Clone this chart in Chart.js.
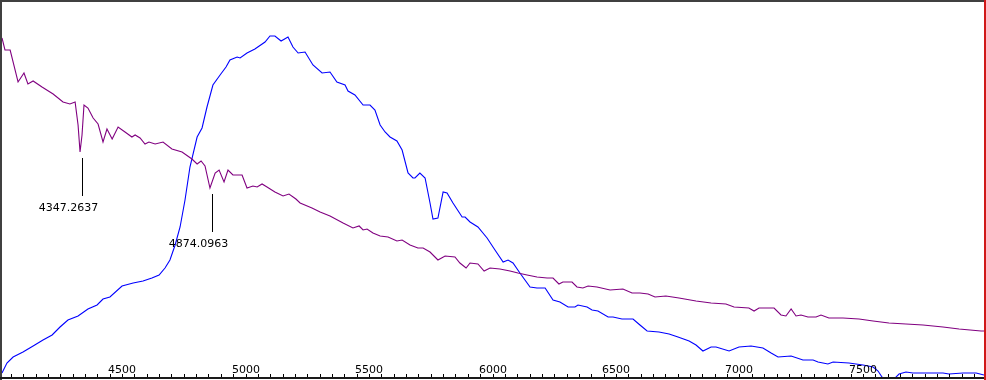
<!DOCTYPE html>
<html>
<head>
<meta charset="utf-8">
<script src="https://cdn.jsdelivr.net/npm/chart.js@4/dist/chart.umd.min.js"></script>
<style>
  html, body { margin: 0; padding: 0; background: #ffffff; }
  canvas { display: block; }
</style>
</head>
<body>
<canvas id="c" width="986" height="380"></canvas>
<script>
// ---- data ----
const purpleWavelength = [4014,4026,4047,4079,4103,4119,4140,4176,4221,4261,4289,4310,4322,4330,4338,4346,4362,4383,4403,4423,4439,4460,4484,4512,4540,4553,4573,4593,4609,4634,4666,4702,4743,4783,4804,4820,4836,4856,4877,4893,4913,4929,4949,4986,5006,5030,5047,5067,5087,5119,5152,5176,5204,5221,5269,5302,5342,5395,5435,5460,5476,5492,5516,5545,5577,5613,5634,5666,5698,5719,5747,5779,5808,5848,5868,5893,5909,5941,5966,5990,6030,6071,6103,6140,6180,6221,6245,6269,6285,6322,6342,6366,6387,6423,6476,6528,6565,6597,6630,6658,6702,6755,6824,6885,6945,6978,7038,7059,7079,7140,7168,7188,7209,7229,7249,7277,7310,7330,7362,7419,7484,7541,7605,7674,7743,7824,7889,7978,7990];
const purpleIntensity = [339,327,327,295,304,293,296,290,283,275,273,275,252,225,242,272,269,259,253,235,248,238,250,245,240,242,239,233,235,233,235,228,225,218,213,216,211,189,204,207,195,207,202,202,189,191,190,193,190,185,181,183,178,174,169,165,161,154,149,151,147,148,144,141,140,136,137,132,129,129,125,117,121,120,114,109,114,113,106,109,108,106,104,102,100,99,99,93,95,95,90,89,91,90,87,88,84,84,83,80,81,79,76,74,73,70,69,66,69,69,62,61,68,61,62,60,60,62,59,59,58,56,54,53,52,50,48,46,46];

const blueWavelength = [4014,4034,4059,4099,4140,4180,4217,4249,4281,4322,4362,4399,4423,4451,4500,4545,4585,4621,4650,4674,4694,4715,4735,4755,4775,4804,4824,4844,4868,4897,4921,4937,4966,4978,5006,5038,5079,5099,5119,5144,5172,5192,5213,5241,5273,5310,5342,5370,5403,5415,5443,5476,5504,5524,5545,5565,5585,5613,5634,5658,5678,5686,5706,5727,5747,5759,5779,5800,5816,5840,5877,5889,5909,5941,5978,6010,6043,6063,6083,6111,6152,6180,6213,6245,6273,6306,6334,6346,6383,6403,6427,6468,6488,6524,6569,6597,6626,6674,6715,6751,6796,6824,6852,6885,6905,6958,6998,7047,7095,7128,7156,7209,7257,7298,7318,7358,7379,7443,7500,7541,7561,7577,7593,7613,7630,7646,7674,7702,7743,7824,7848,7905,7958,7990];
const blueIntensity = [4,14,20,25,31,37,42,50,57,61,68,72,78,80,91,94,96,99,102,109,117,132,150,177,210,240,249,270,292,302,310,317,320,319,324,328,335,341,341,336,340,330,324,325,312,304,305,295,292,286,282,272,272,267,252,245,240,236,227,204,199,199,204,199,174,158,159,185,184,174,160,160,155,150,139,127,115,117,114,104,90,89,89,77,75,70,70,72,70,67,66,60,60,58,58,52,46,45,43,40,36,32,26,30,30,26,30,31,29,24,20,21,17,17,15,13,15,14,12,10,6,0,-7,-6,-1,3,5,4,4,4,3,4,4,2];

const tickLabels = [4500, 5000, 5500, 6000, 6500, 7000, 7500];
const minorTickStep = 50;
const xRange = [4014, 7990];
const yRange = [0, 375];

const markerWavelength = [4347.2637, 4874.0963];
const markerLabel = ['4347.2637', '4874.0963'];
const markerIntensity = [225, 189];

// ---- build chart ----
function pts(xs, ys) { return xs.map((x, i) => ({ x: x, y: ys[i] })); }

const FONT = '11px "DejaVu Sans", Verdana, sans-serif';

const framePlugin = {
  id: 'frame',
  afterDraw(chart) {
    const ctx = chart.ctx;
    const xs = chart.scales.x, ys = chart.scales.y;
    const W = chart.width, H = chart.height;
    ctx.save();
    // minor ticks pointing up from the bottom edge
    ctx.fillStyle = '#000000';
    const first = Math.ceil(xRange[0] / minorTickStep) * minorTickStep;
    for (let v = first; v <= xRange[1]; v += minorTickStep) {
      const px = Math.round(xs.getPixelForValue(v));
      ctx.fillRect(px, 374, 1, 3);
    }
    // tick labels inside the plot
    ctx.font = FONT;
    ctx.textAlign = 'center';
    ctx.textBaseline = 'alphabetic';
    ctx.fillStyle = '#000000';
    tickLabels.forEach(t => {
      ctx.fillText(String(t), Math.round(xs.getPixelForValue(t)), 373);
    });
    // line markers
    markerWavelength.forEach((w, i) => {
      const px = Math.round(xs.getPixelForValue(w)) - 2 + 0.5;
      const top = Math.round(ys.getPixelForValue(markerIntensity[i])) + 6;
      ctx.strokeStyle = '#000000';
      ctx.lineWidth = 1;
      ctx.beginPath();
      ctx.moveTo(px, top);
      ctx.lineTo(px, top + 38);
      ctx.stroke();
      ctx.fillText(markerLabel[i], px - 14, top + 53);
    });
    // frame
    ctx.fillStyle = '#404040';
    ctx.fillRect(0, 0, W - 2, 2);      // top
    ctx.fillRect(0, 0, 2, H);          // left
    ctx.fillStyle = '#1a1a1a';
    ctx.fillRect(0, 377, W - 2, 2);    // bottom
    ctx.fillStyle = '#d01818';
    ctx.fillRect(W - 2, 0, 2, H);      // right (red)
    ctx.restore();
  }
};

new Chart(document.getElementById('c'), {
  type: 'line',
  data: {
    datasets: [
      {
        label: 'spectrum A',
        data: pts(purpleWavelength, purpleIntensity),
        borderColor: '#800080',
        borderWidth: 1.1,
        pointRadius: 0,
        tension: 0,
        fill: false,
        clip: 0
      },
      {
        label: 'spectrum B',
        data: pts(blueWavelength, blueIntensity),
        borderColor: '#0000ff',
        borderWidth: 1.1,
        pointRadius: 0,
        tension: 0,
        fill: false,
        clip: 0
      }
    ]
  },
  options: {
    responsive: false,
    animation: false,
    devicePixelRatio: 1,
    layout: { padding: { left: 2, top: 2, right: 2, bottom: 3 } },
    scales: {
      x: { type: 'linear', min: xRange[0], max: xRange[1], display: false },
      y: { type: 'linear', min: yRange[0], max: yRange[1], display: false }
    },
    plugins: {
      legend: { display: false },
      tooltip: { enabled: false }
    }
  },
  plugins: [framePlugin]
});
</script>
</body>
</html>
